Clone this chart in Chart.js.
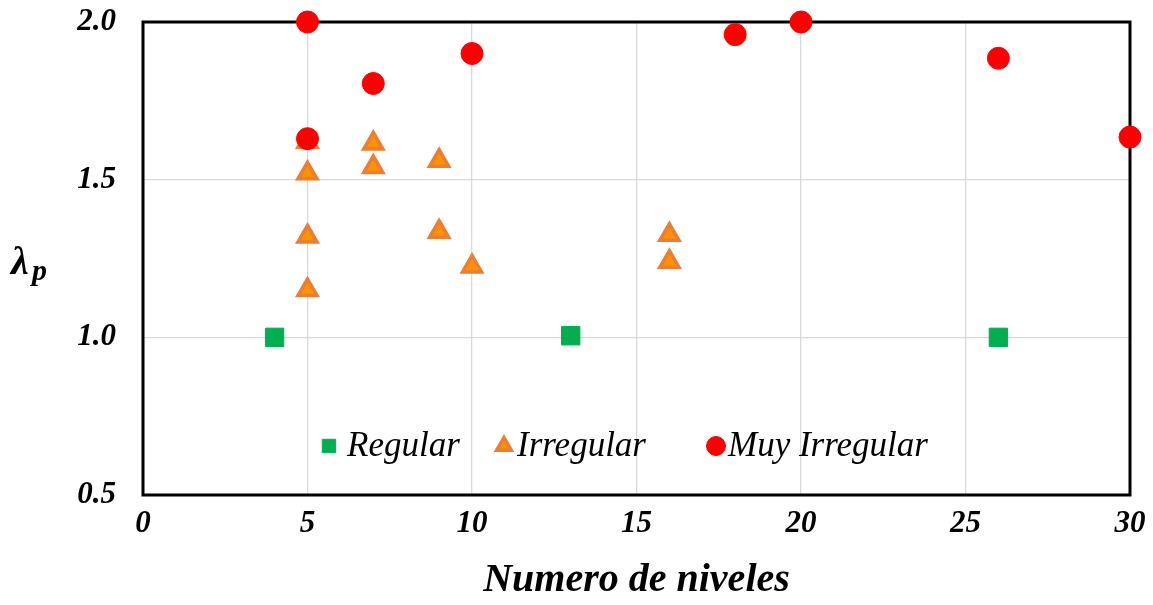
<!DOCTYPE html>
<html>
<head>
<meta charset="utf-8">
<script src="https://cdn.jsdelivr.net/npm/chart.js@4.4.0/dist/chart.umd.min.js"></script>
<style>
  html, body { margin: 0; padding: 0; background: #fff; }
  #wrap { width: 1153px; height: 605px; }
</style>
</head>
<body>
<div id="wrap"><canvas id="grafico" width="1153" height="605"></canvas></div>
<script>
// Datos (x = número de niveles, y = lambda_p)
const regularX = [4, 13, 26];
const regularY = [1.00, 1.005, 1.00];

const irregularX = [5, 5, 5, 5, 7, 7, 9, 9, 10, 16, 16];
const irregularY = [1.62, 1.52, 1.32, 1.15, 1.615, 1.54, 1.56, 1.335, 1.225, 1.325, 1.24];

const muyIrregularX = [5, 5, 7, 10, 18, 20, 26, 30];
const muyIrregularY = [2.00, 1.63, 1.805, 1.90, 1.96, 2.00, 1.885, 1.635];

const nombresSeries = ['Regular', 'Irregular', 'Muy Irregular'];
const xTicks = [0, 5, 10, 15, 20, 25, 30];
const yTicks = [0.5, 1.0, 1.5, 2.0];

const fuente = "'Liberation Serif', 'Times New Roman', serif";
const colorGrid = '#d9d9d9';

const pares = (xs, ys) => xs.map((x, i) => ({ x: x, y: ys[i] }));

// marco negro alrededor del área de trazado + título del eje y con subíndice
const marcoPlugin = {
    id: 'marco',
    beforeDatasetsDraw(chart) {
        const { ctx, chartArea: a } = chart;
        ctx.save();
        ctx.strokeStyle = '#000';
        ctx.lineWidth = 3;
        ctx.strokeRect(a.left, a.top, a.right - a.left, a.bottom - a.top);
        ctx.restore();
    },
    afterDraw(chart) {
        const { ctx } = chart;
        ctx.save();
        ctx.fillStyle = '#000';
        ctx.textBaseline = 'alphabetic';
        ctx.font = `bold italic 40px ${fuente}`;
        ctx.fillText('λ', 11, 274);
        ctx.font = `bold italic 30px ${fuente}`;
        ctx.fillText('p', 32, 280);
        ctx.restore();
    }
};

// leyenda dentro del área de trazado, abajo al centro
const leyendaPlugin = {
    id: 'leyendaInterna',
    afterDatasetsDraw(chart) {
        const { ctx } = chart;
        const y = 446;
        const items = [
            { x: 329, texto: nombresSeries[0], estilo: 'rect', r: 9.5, tx: 347 },
            { x: 504, texto: nombresSeries[1], estilo: 'triangle', r: 8.5, tx: 517 },
            { x: 716, texto: nombresSeries[2], estilo: 'circle', r: 9.5, tx: 728 }
        ];
        ctx.save();
        items.forEach((it, i) => {
            const ds = chart.data.datasets[i];
            ctx.fillStyle = ds.backgroundColor;
            ctx.strokeStyle = ds.borderColor;
            ctx.lineWidth = ds.borderWidth;
            Chart.helpers.drawPoint(ctx, { pointStyle: it.estilo, radius: it.r, borderWidth: ds.borderWidth, rotation: 0 }, it.x, y);
            ctx.fillStyle = '#000';
            ctx.font = `italic 35px ${fuente}`;
            ctx.textBaseline = 'middle';
            ctx.fillText(it.texto, it.tx, y + 1);
        });
        ctx.restore();
    }
};

new Chart('grafico', {
    type: 'scatter',
    data: {
        datasets: [
            {
                label: nombresSeries[0],
                data: pares(regularX, regularY),
                pointStyle: 'rect',
                pointRadius: 13,
                backgroundColor: '#00b050',
                borderColor: '#00b050',
                borderWidth: 1,
                order: 2,
                clip: false
            },
            {
                label: nombresSeries[1],
                data: pares(irregularX, irregularY),
                pointStyle: 'triangle',
                pointRadius: 11,
                backgroundColor: '#ff9200',
                borderColor: '#ed7d31',
                borderWidth: 3.5,
                order: 1,
                clip: false
            },
            {
                label: nombresSeries[2],
                data: pares(muyIrregularX, muyIrregularY),
                pointStyle: 'circle',
                pointRadius: 11,
                backgroundColor: '#ff0000',
                borderColor: '#ff0000',
                borderWidth: 1,
                order: 0,
                clip: false
            }
        ]
    },
    options: {
        responsive: false,
        animation: false,
        layout: { padding: { top: 22, right: 23, left: 0, bottom: 0 } },
        plugins: {
            legend: { display: false },
            tooltip: { enabled: false }
        },
        scales: {
            x: {
                type: 'linear',
                min: xTicks[0],
                max: xTicks[xTicks.length - 1],
                afterBuildTicks: s => { s.ticks = xTicks.map(v => ({ value: v })); },
                afterFit: s => { s.height = 110; s.paddingLeft = 0; s.paddingRight = 0; },
                grid: { color: colorGrid, lineWidth: 1.3, drawTicks: false },
                border: { display: false },
                ticks: {
                    color: '#000',
                    padding: 10,
                    font: { family: fuente, size: 31, weight: 'bold', style: 'italic' }
                },
                title: {
                    display: true,
                    text: 'Numero de niveles',
                    color: '#000',
                    padding: { top: 6, bottom: 0 },
                    font: { family: fuente, size: 40, weight: 'bold', style: 'italic' }
                }
            },
            y: {
                type: 'linear',
                min: yTicks[0],
                max: yTicks[yTicks.length - 1],
                afterBuildTicks: s => { s.ticks = yTicks.map(v => ({ value: v })); },
                afterFit: s => { s.width = 143; s.paddingTop = 0; s.paddingBottom = 0; },
                grid: { color: colorGrid, lineWidth: 1.3, drawTicks: false },
                border: { display: false },
                ticks: {
                    color: '#000',
                    padding: 27,
                    callback: v => Number(v).toFixed(1),
                    font: { family: fuente, size: 31, weight: 'bold', style: 'italic' }
                }
            }
        }
    },
    plugins: [marcoPlugin, leyendaPlugin]
});
</script>
</body>
</html>
